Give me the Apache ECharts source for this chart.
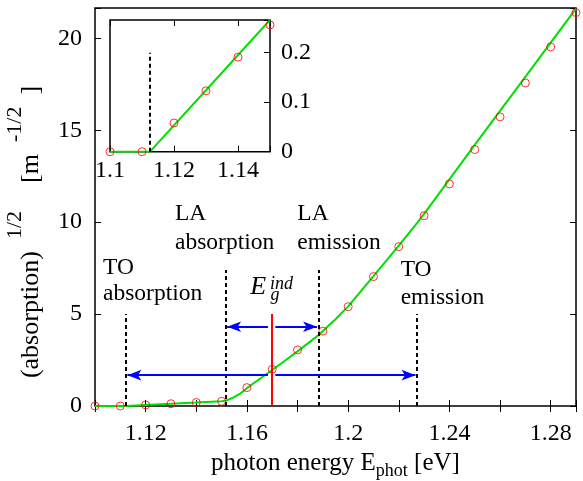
<!DOCTYPE html>
<html><head><meta charset="utf-8">
<script src="https://cdn.jsdelivr.net/npm/echarts@6/dist/echarts.min.js"></script>
<style>html,body{margin:0;padding:0;background:#fff}#c{width:583px;height:481px}</style>
</head><body><div id="c"></div>
<script>
// measured data points
const energy = [1.10,1.11,1.12,1.13,1.14,1.15,1.16,1.17,1.18,1.19,1.20,1.21,1.22,1.23,1.24,1.25,1.26,1.27,1.28,1.29];
const sqrtAbs = [0,0,0.058,0.123,0.191,0.256,1.0,2.0,3.05,4.07,5.4,7.04,8.67,10.35,12.08,13.95,15.73,17.57,19.53,21.4];
// fitted curve
const fitEnergy = [1.100,1.1121,1.12,1.13,1.14,1.15,1.1515,1.154,1.157,1.160,1.165,1.170,1.175,1.180,1.185,1.1883,1.19,1.195,1.20,1.21,1.22,1.2272,1.23,1.24,1.25,1.26,1.27,1.28,1.29];
const fitValue  = [0,0,0.06,0.125,0.19,0.26,0.28,0.42,0.64,0.97,1.47,1.96,2.46,2.97,3.5,3.86,4.08,4.72,5.42,7.06,8.72,9.95,10.45,12.33,14.2,16.05,17.9,19.77,21.62];
// inset
const insetCount = 6;
const insetFitEnergy = [1.10,1.1125,1.15];
const insetFitValue = [0,0,0.266];
const insetThreshold = 1.1125, insetThresholdTop = 0.2;
// phonon thresholds: TO absorption, LA absorption, LA emission, TO emission
const phononE = [1.1121,1.1515,1.1883,1.2272];
const phononTop = [5.0,7.4,7.4,5.0];
const egInd = 1.1697, egTop = 5.0;
// arrows: start and tip energies, heights
const arrowStart = [1.16831,1.17123,1.16831,1.17123];
const arrowTip = [1.1522,1.1877,1.1128,1.2266];
const arrowY = [4.31,4.31,1.675,1.675];
// tick labels
const xTickLabels = ['1.12','1.16','1.2','1.24','1.28'];
const yTickLabels = ['0','5','10','15','20'];
const insetXTickLabels = ['1.1','1.12','1.14'];
const insetYTickLabels = ['0','0.1','0.2'];
// annotation texts and anchors (left, middle) in data coordinates
const annotTexts = ['TO','absorption','LA','absorption','LA','emission','TO','emission'];
const annotX = [1.10316,1.10316,1.13160,1.13160,1.17991,1.17991,1.22075,1.22075];
const annotY = [7.52,6.08,10.45,8.90,10.45,8.90,7.41,5.86];
const egText = ['E','ind','g'];
const egX = [1.1613,1.16913,1.16932];
const egY = [6.45,6.6,6.03];

const FONT = 'Liberation Serif';
const GREEN = '#00e000';
const tickFmt = list => v => { const s = String(Math.round(v*1000)/1000); return list.includes(s) ? s : ''; };
const zip = (a,b) => a.map((v,i)=>[v,b[i]]);
const lab = (size, extra) => Object.assign({fontFamily:FONT, fontSize:size, color:'#000'}, extra||{});
const tick = {show:true, inside:true, length:6, lineStyle:{color:'#000', width:1}};

const markData = [];
phononE.forEach((e,i)=>{
  markData.push([{coord:[e,0], lineStyle:{color:'#000', width:2, type:[4,3]}},{coord:[e,phononTop[i]]}]);
});
markData.push([{coord:[egInd,0], lineStyle:{color:'#ff0000', width:2, type:'solid'}},{coord:[egInd,egTop]}]);
arrowStart.forEach((s,i)=>{
  markData.push([{coord:[s,arrowY[i]], lineStyle:{color:'#0000ff', width:2, type:'solid'}},
                 {coord:[arrowTip[i],arrowY[i]], symbol:'arrow', symbolSize:[8,14]}]);
});

const annotData = annotTexts.map((t,i)=>({value:[annotX[i],annotY[i]], label:{formatter:t}}));
const egSizes = [26,18,18];
egText.forEach((t,i)=>annotData.push({value:[egX[i],egY[i]], label:{formatter:t, fontStyle:'italic', fontSize:egSizes[i]}}));

const supY = {lineHeight:22, verticalAlign:'top'};
const option = {
  animation:false,
  backgroundColor:'#fff',
  grid:[
    {left:95, right:7, top:8, bottom:75, outerBoundsMode:'none', containLabel:false, show:true, borderColor:'#000', borderWidth:1.5, backgroundColor:'transparent'},
    {left:110, right:313, top:20, bottom:329.3, outerBoundsMode:'none', containLabel:false, show:true, borderColor:'#000', borderWidth:1.5, backgroundColor:'#fff'}
  ],
  xAxis:[
    {gridIndex:0, type:'value', min:1.1, max:1.29, interval:0.02, position:'bottom',
     axisLine:{show:false}, axisTick:tick, splitLine:{show:false},
     axisLabel:lab(24,{margin:16, formatter:tickFmt(xTickLabels)}),
     name:'{m|photon energy E}{sb|phot}{m| [eV]}', nameLocation:'middle', nameGap:39.5,
     nameTextStyle:lab(25,{rich:{m:lab(25,{lineHeight:34}), sb:lab(18,{lineHeight:18, verticalAlign:'bottom'})}})},
    {gridIndex:0, type:'value', min:1.1, max:1.29, interval:0.02, position:'top',
     axisLine:{show:false}, axisTick:tick, splitLine:{show:false}, axisLabel:{show:false}},
    {gridIndex:1, type:'value', min:1.1, max:1.15, interval:0.02, position:'bottom',
     axisLine:{show:false}, axisTick:tick, splitLine:{show:false},
     axisLabel:lab(24,{margin:7, formatter:tickFmt(insetXTickLabels)})},
    {gridIndex:1, type:'value', min:1.1, max:1.15, interval:0.02, position:'top',
     axisLine:{show:false}, axisTick:tick, splitLine:{show:false}, axisLabel:{show:false}}
  ],
  yAxis:[
    {gridIndex:0, type:'value', min:0, max:21.65, interval:5, position:'left',
     axisLine:{show:false}, axisTick:tick, splitLine:{show:false},
     axisLabel:lab(24,{margin:13, formatter:tickFmt(yTickLabels)}),
     name:'{m|(absorption)}{s1|1/2}{m2|[m}{s2|-1/2}{m3|]}', nameLocation:'middle', nameGap:37,
     nameTextStyle:lab(26,{padding:[0,50,0,0], rich:{
       m:lab(26,{lineHeight:54}),
       s1:lab(22,Object.assign({padding:[0,0,0,12]},supY)),
       m2:lab(26,{lineHeight:54, padding:[0,0,0,28]}),
       s2:lab(22,Object.assign({padding:[0,0,0,12]},supY)),
       m3:lab(26,{lineHeight:54, padding:[0,0,0,12]})}})},
    {gridIndex:0, type:'value', min:0, max:21.65, interval:5, position:'right',
     axisLine:{show:false}, axisTick:tick, splitLine:{show:false}, axisLabel:{show:false}},
    {gridIndex:1, type:'value', min:0, max:0.266, interval:0.1, position:'right',
     axisLine:{show:false}, axisTick:tick, splitLine:{show:false},
     axisLabel:lab(24,{margin:11, formatter:tickFmt(insetYTickLabels)})}
  ],
  series:[
    {type:'line', xAxisIndex:0, yAxisIndex:0, data:zip(fitEnergy,fitValue), showSymbol:false, symbol:'none',
     lineStyle:{color:GREEN, width:2}, z:3},
    {type:'scatter', xAxisIndex:0, yAxisIndex:0, data:zip(energy,sqrtAbs), symbol:'circle', symbolSize:8, clip:false,
     itemStyle:{color:'rgba(0,0,0,0)', borderColor:'#ff0000', borderWidth:1}, z:4,
     markLine:{silent:true, symbol:['none','none'], label:{show:false}, animation:false, data:markData}},
    {type:'scatter', xAxisIndex:0, yAxisIndex:0, data:annotData, symbolSize:0, clip:false, silent:true,
     itemStyle:{color:'#000'},
     label:{show:true, position:[0,0], align:'left', verticalAlign:'middle', fontFamily:FONT, fontSize:23.5,
            color:'#000', textBorderWidth:0, textBorderColor:'transparent', opacity:1}, z:5},
    {type:'line', xAxisIndex:2, yAxisIndex:2, data:zip(insetFitEnergy,insetFitValue), showSymbol:false, symbol:'none',
     lineStyle:{color:GREEN, width:2}, z:3},
    {type:'scatter', xAxisIndex:2, yAxisIndex:2, data:zip(energy.slice(0,insetCount), sqrtAbs.slice(0,insetCount)),
     symbol:'circle', symbolSize:8, clip:false,
     itemStyle:{color:'rgba(0,0,0,0)', borderColor:'#ff0000', borderWidth:1}, z:4,
     markLine:{silent:true, symbol:['none','none'], label:{show:false}, animation:false,
       data:[[{coord:[insetThreshold,0], lineStyle:{color:'#000', width:2, type:[4,3]}},{coord:[insetThreshold,insetThresholdTop]}]]}}
  ]
};
const chart = echarts.init(document.getElementById('c'));
chart.setOption(option);
</script></body></html>
